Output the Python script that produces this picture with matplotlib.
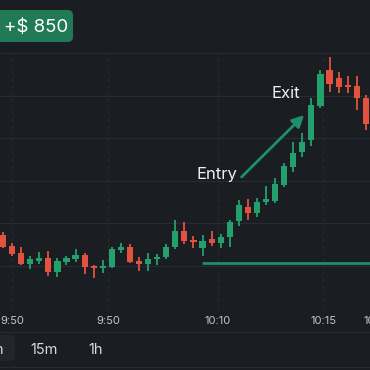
import numpy as np
import matplotlib
matplotlib.use('Agg')
import matplotlib.pyplot as plt
from matplotlib.patches import FancyBboxPatch, Rectangle

plt.rcParams['font.family'] = ['Inter', 'DejaVu Sans']

# candle data (price units), one candle per minute
opens  = [135, 124, 117, 106, 109, 112, 98, 108, 111, 115, 104, 102, 103, 120,
          123, 109, 106, 111, 113, 123, 139, 130, 122, 131, 127, 133, 149, 163,
          157, 168, 169, 185, 203, 218, 230, 264, 300, 292, 284, 284, 272]
highs  = [138, 127, 123, 114, 118, 119, 112, 114, 121, 117, 105, 110, 123, 127,
          126, 113, 117, 116, 126, 150, 148, 134, 135, 139, 136, 150, 170, 171,
          172, 184, 192, 207, 228, 237, 272, 300, 313, 298, 294, 294, 275]
lows   = [122, 114, 105, 101, 106, 94, 93, 105, 108, 96, 92, 97, 102, 117,
          107, 99, 99, 105, 111, 121, 126, 122, 114, 124, 122, 123, 144, 150,
          153, 165, 167, 183, 198, 213, 224, 262, 278, 277, 277, 260, 240]
closes = [123, 116, 106, 111, 112, 98, 109, 112, 115, 103, 102, 104, 121, 123,
          108, 106, 111, 113, 123, 139, 129, 128, 129, 127, 133, 148, 165, 157,
          168, 171, 186, 204, 217, 228, 265, 296, 286, 283, 283, 272, 246]

tick_pos = [1.0, 11.6, 23.7, 35.3, 41.3]
tick_labels = ['9:50', '9:50', '10:10', '10:15', '10:20']

entry_price = 107
entry_start = 21.9
arrow_from = (26.3, 193)
arrow_to = (33.2, 255)
entry_label = (23.6, 196)
exit_label = (31.2, 277)

profit_text = '+$ 850'
timeframes = ['5m', '15m', '1h']

BG = '#1a1d22'
GREEN = '#23a06c'
RED = '#e2523f'
TEAL = '#1f8f6a'
GRID = '#272b32'

W = H = 370.0
fig = plt.figure(figsize=(3.7, 3.7), dpi=100, facecolor=BG)

def fx(x):
    return x / W

def fy(y):
    return 1 - y / H

# chart area: pixel rows 53..308
ax = fig.add_axes([0, fy(308), 1, (308 - 53) / H])
ax.set_facecolor(BG)
for s in ax.spines.values():
    s.set_visible(False)

x = np.arange(len(opens))
o = np.array(opens, float)
c = np.array(closes, float)
up = c >= o
colors = np.where(up, GREEN, RED)

ax.vlines(x, lows, highs, colors=colors, linewidth=1.3, zorder=3)
body_low = np.minimum(o, c)
body_h = np.maximum(np.abs(c - o), 1.6)
ax.bar(x, body_h, bottom=body_low, width=0.68, color=colors, zorder=4,
       linewidth=0)

ax.set_xlim(-0.33, 40.46)
ax.set_ylim(62, 317)
ax.set_yticks(np.arange(62, 318, 42.5))
ax.yaxis.grid(True, color=GRID, linewidth=0.9)
ax.set_xticks(tick_pos[:4])
ax.set_xticklabels([])
ax.xaxis.grid(True, color=GRID, linewidth=0.8, linestyle=(0, (3, 3)))
ax.tick_params(length=0, labelleft=False, labelbottom=False)
ax.set_axisbelow(True)

# x labels below chart
for p, lab in zip(tick_pos, tick_labels):
    ax.text(p, -0.05, lab, transform=ax.get_xaxis_transform(), ha='center',
            va='center', fontsize=8, color='#c3c6ca', clip_on=False)

# entry line and arrow
ax.hlines(entry_price, entry_start, 41, colors=TEAL, linewidth=2.0, zorder=2)
ax.annotate('', xy=arrow_to, xytext=arrow_from,
            arrowprops=dict(arrowstyle='-|>,head_length=0.7,head_width=0.35',
                            color=TEAL, lw=2.0, shrinkA=0, shrinkB=0), zorder=5)
ax.text(*entry_label, 'Entry', ha='center', va='center', fontsize=12,
        color='#f0f0f0', zorder=6)
ax.text(*exit_label, 'Exit', ha='center', va='center', fontsize=12,
        color='#f0f0f0', zorder=6)

# profit badge
badge = FancyBboxPatch((fx(-10), fy(42)), fx(83), (42 - 10) / H,
                       boxstyle='round,pad=0,rounding_size=0.014',
                       transform=fig.transFigure, facecolor='#1f7a55',
                       edgecolor='none')
fig.patches.append(badge)
fig.text(fx(36), fy(27), profit_text, ha='center', va='center', fontsize=13.5,
         color='white')

# separators
for yy in (332, 367):
    fig.add_artist(plt.Line2D([0, 1], [fy(yy), fy(yy)], color=GRID,
                              linewidth=0.9, transform=fig.transFigure))

# timeframe selector
sel = FancyBboxPatch((fx(-10), fy(361)), fx(25), (361 - 335) / H,
                     boxstyle='round,pad=0,rounding_size=0.012',
                     transform=fig.transFigure, facecolor='#22262c',
                     edgecolor='none')
fig.patches.append(sel)
fig.text(fx(4.5), fy(350), timeframes[0], ha='right', va='center',
         fontsize=10.5, color='#d8dadd')
fig.text(fx(44), fy(350), timeframes[1], ha='center', va='center',
         fontsize=10.5, color='#d8dadd')
fig.text(fx(96), fy(350), timeframes[2], ha='center', va='center',
         fontsize=10.5, color='#d8dadd')

fig.savefig('out.png', dpi=100, facecolor=BG)
